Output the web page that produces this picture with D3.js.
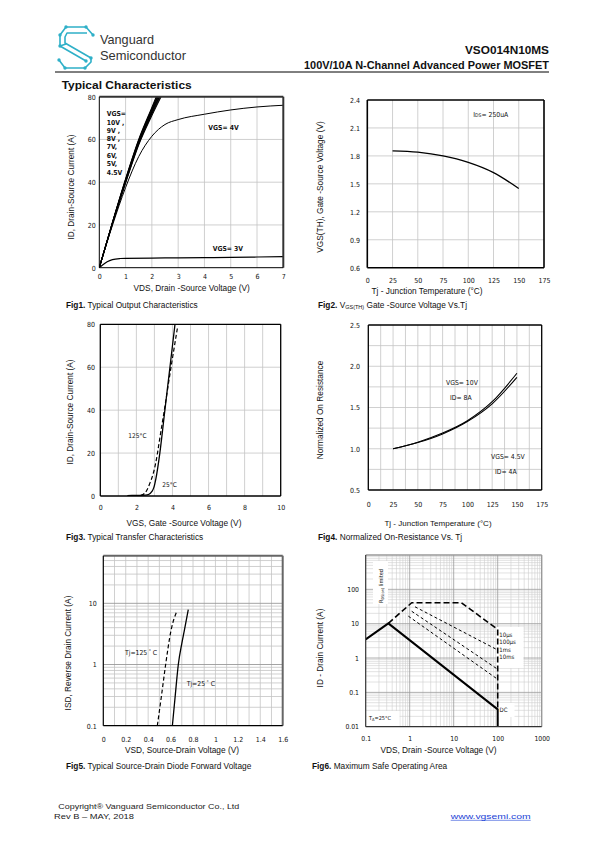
<!DOCTYPE html>
<html><head><meta charset="utf-8">
<script src="https://cdn.jsdelivr.net/npm/d3@7"></script>
<style>body{margin:0;background:#fff}svg{display:block}</style>
</head><body>
<script>
// ---------------- DATA ----------------
const fig1XTicks=[0,1,2,3,4,5,6,7];
const fig1YTicks=[0,20,40,60,80];
const fig1Vgs10=[[0,0],[0.5,21.2],[1,41.5],[1.5,60],[2,75],[2.2,81]];
const fig1Vgs9=[[0,0],[0.5,21.1],[1,41.2],[1.5,59.6],[2,74.4],[2.23,81]];
const fig1Vgs8=[[0,0],[0.5,21],[1,40.9],[1.5,59.2],[2,73.8],[2.26,81]];
const fig1Vgs7=[[0,0],[0.5,20.9],[1,40.6],[1.5,58.8],[2,73.2],[2.29,81]];
const fig1Vgs6=[[0,0],[0.5,20.8],[1,40.3],[1.5,58.4],[2,72.6],[2.32,81]];
const fig1Vgs5=[[0,0],[0.5,20.7],[1,40],[1.5,58],[2,72],[2.35,81]];
const fig1Vgs45=[[0,0],[0.5,20.5],[1,39.6],[1.5,57.5],[2,71.2],[2.39,81]];
const fig1Vgs4=[[0,0],[0.5,19.8],[1,37.5],[1.5,52],[2,61.5],[2.5,67],[3,69.3],[4,71.8],[5,73.8],[6,75.2],[7,76]];
const fig1Vgs3=[[0,0],[0.15,1.5],[0.3,2.8],[0.5,3.8],[0.8,4.3],[1,4.4],[2,4.5],[3,4.6],[4,4.7],[5,4.8],[6,5.0],[7,5.2]];
const fig1BundleLabels=["VGS=","10V ,","9V ,","8V ,","7V,","6V,","5V,","4.5V"];

const fig2XTicks=[0,25,50,75,100,125,150,175];
const fig2YTicks=[0.6,0.9,1.2,1.5,1.8,2.1,2.4];
const fig2Temp=[25,50,75,100,125,150];
const fig2Vth=[1.855,1.84,1.80,1.73,1.62,1.45];

const fig3XTicks=[0,2,4,6,8,10];
const fig3YTicks=[0,20,40,60,80];
const fig3Tj25=[[1.5,0.2],[2.0,0.3],[2.5,0.4],[2.7,0.8],[2.85,2],[2.97,4],[3.08,8],[3.3,20],[3.58,40],[3.86,60],[4.14,80]];
const fig3Tj125=[[2.25,0.3],[2.45,1.2],[2.6,3],[2.75,6],[2.9,9.5],[3.05,14.5],[3.15,19],[3.3,27],[3.55,40],[3.92,60],[4.29,79]];

const fig4XTicks=[0,25,50,75,100,125,150,175];
const fig4YTicks=[0.5,1.0,1.5,2.0,2.5];
const fig4Temp=[25,50,75,100,125,150];
const fig4Vgs10=[1.0,1.08,1.19,1.34,1.57,1.915];
const fig4Vgs45=[1.0,1.075,1.18,1.33,1.545,1.866];

const fig5XTicks=[0,0.2,0.4,0.6,0.8,1,1.2,1.4,1.6];
const fig5YTicks=[0.1,1,10];
const fig5Tj25=[[0.616,0.1],[0.642,0.316],[0.669,1],[0.70,2.2],[0.723,3.6],[0.758,7.9]];
const fig5Tj125=[[0.482,0.1],[0.52,0.32],[0.556,1],[0.604,3.6],[0.657,7.5]];

const fig6XTicks=[0.1,1,10,100,1000];
const fig6YTicks=[0.01,0.1,1,10,100];
const fig6DC=[[0.1,3.5],[0.327,10.2],[100,0.032],[100,0.01]];
const fig6Us10=[[0.327,10.2],[1.11,40.7],[15,40.7],[100,6.8],[100,0.032]];
const fig6Us100=[[1.32,31],[100,1.71]];
const fig6Ms1=[[1.11,23],[100,0.47]];
const fig6Ms10=[[0.93,16.6],[100,0.24]];
const fig6PulseLabels=["10µs","100µs","1ms","10ms"];

// ---------------- DRAWING ----------------
const NARROW="'Liberation Sans Narrow','Arial Narrow','DejaVu Sans Condensed','Liberation Sans',Arial,sans-serif";
const SANS="'Liberation Sans',Arial,Helvetica,sans-serif";
const svg=d3.select("body").append("svg").attr("width",595).attr("height",842);
const defs=svg.append("defs");
let clipN=0;

function txt(g,x,y,s,o={}){
  const t=g.append("text").attr("x",x).attr("y",y).text(s)
    .attr("font-family",o.ff||SANS).attr("font-size",o.fs||8).attr("fill",o.fill||"#111");
  if(o.fw) t.attr("font-weight",o.fw);
  if(o.anchor) t.attr("text-anchor",o.anchor);
  if(o.dy) t.attr("dy",o.dy);
  if(o.len) t.attr("textLength",o.len).attr("lengthAdjust","spacingAndGlyphs");
  if(o.rot) t.attr("transform",`rotate(-90,${x},${y})`);
  return t;
}
function seg(g,x1,y1,x2,y2,c,w,da){
  const l=g.append("line").attr("x1",x1).attr("y1",y1).attr("x2",x2).attr("y2",y2).attr("stroke",c).attr("stroke-width",w);
  if(da) l.attr("stroke-dasharray",da);
  return l;
}
function panel(o){
  const x=(o.xlog?d3.scaleLog():d3.scaleLinear()).domain(o.xd).range([o.l,o.r]);
  const y=(o.ylog?d3.scaleLog():d3.scaleLinear()).domain(o.yd).range([o.b,o.t]);
  const g=svg.append("g");
  const grid=g.append("g");
  (o.gx||[]).forEach(v=>seg(grid,x(v),o.t,x(v),o.b,o.gc||"#c4c4c4",o.gw||0.8));
  (o.gy||[]).forEach(v=>seg(grid,o.l,y(v),o.r,y(v),o.gc||"#c4c4c4",o.gw||0.8));
  (o.gxM||[]).forEach(v=>seg(grid,x(v),o.t,x(v),o.b,o.gcM||"#9a9a9a",o.gwM||0.9));
  (o.gyM||[]).forEach(v=>seg(grid,o.l,y(v),o.r,y(v),o.gcM||"#9a9a9a",o.gwM||0.9));
  const id="clip"+(++clipN);
  defs.append("clipPath").attr("id",id).append("rect").attr("x",o.l).attr("y",o.t).attr("width",o.r-o.l).attr("height",o.b-o.t);
  const plot=g.append("g").attr("clip-path",`url(#${id})`);
  return {g,x,y,plot,o};
}
function frame(p,s){
  const o=p.o,g=p.g.append("g");
  seg(g,o.l,o.t,o.r,o.t,s.tc,s.tw);
  seg(g,o.r,o.t,o.r,o.b,s.tc,s.tw);
  seg(g,o.l,o.t,o.l,o.b,s.lc,s.lw);
  seg(g,o.l,o.b,o.r,o.b,s.lc,s.lw);
}
function ticks(p,xt,yt,xf,yf,xLabY,yLabX,fs){
  const ax=p.g.append("g").attr("transform",`translate(0,${xLabY})`)
    .call(d3.axisBottom(p.x).tickValues(xt).tickFormat(xf).tickSize(0).tickPadding(0));
  ax.select(".domain").remove();
  ax.attr("font-family",NARROW).attr("font-size",fs);
  ax.selectAll("text").attr("dy","0.35em").attr("fill","#111");
  const ay=p.g.append("g").attr("transform",`translate(${yLabX},0)`)
    .call(d3.axisLeft(p.y).tickValues(yt).tickFormat(yf).tickSize(0).tickPadding(0));
  ay.select(".domain").remove();
  ay.attr("font-family",NARROW).attr("font-size",fs);
  ay.selectAll("text").attr("dy","0.33em").attr("fill","#111");
}
function curve(p,data,o={}){
  const ln=d3.line().x(d=>p.x(d[0])).y(d=>p.y(d[1])).curve(o.linear?d3.curveLinear:d3.curveMonotoneX);
  const path=p.plot.append("path").attr("d",ln(data)).attr("fill","none")
    .attr("stroke",o.c||"#000").attr("stroke-width",o.w||1.2).attr("stroke-linejoin","round");
  if(o.da) path.attr("stroke-dasharray",o.da);
  return path;
}
function caption(x,y,num,fs){
  const t=svg.append("text").attr("x",x).attr("y",y).attr("font-family",SANS).attr("font-size",fs||8.3).attr("fill","#111");
  t.append("tspan").attr("font-weight","bold").text(num);
  return t;
}

// ---------- Header ----------
const head=svg.append("g");
const logo=head.append("g").attr("stroke","#2fb0c8").attr("stroke-width",1.6).attr("fill","none").attr("stroke-linejoin","round");
logo.append("path").attr("d","M93,35 L86,27 L66,27 L60,35 L60,46 L86,61");
logo.append("path").attr("d","M87,33 L67,33 L65,37 L65,43 L91,58 L91,62 L85,68 L65,68 L59,60");
logo.append("path").attr("d","M60,46 L66,44");
const logoDots=[[86,27],[66,27],[60,35],[93,35],[60,46],[91,58],[85,68],[65,68],[59,60],[86,61]];
logo.selectAll("circle").data(logoDots).join("circle").attr("cx",d=>d[0]).attr("cy",d=>d[1]).attr("r",1.7).attr("fill","#2fb0c8").attr("stroke","none");
txt(head,100,43.5,"Vanguard",{fs:13,fill:"#333",len:54});
txt(head,100,59.5,"Semiconductor",{fs:13,fill:"#333",len:86});
txt(head,549,53.5,"VSO014N10MS",{fs:11.5,fw:"bold",anchor:"end",len:84});
txt(head,549,69.3,"100V/10A  N-Channel  Advanced  Power  MOSFET",{fs:10,fw:"bold",anchor:"end",len:245});
seg(head,55,72,549,72,"#000",1);
txt(head,61.7,89,"Typical Characteristics",{fs:11.2,fw:"bold",len:130});

// ---------- Fig1 ----------
const p1=panel({xd:[0,7],yd:[0,80],l:99.3,r:283.3,t:96.7,b:267.7,
  gx:[1,2,3,4,5,6],gy:[20,40,60]});
[fig1Vgs10,fig1Vgs9,fig1Vgs8,fig1Vgs7,fig1Vgs6,fig1Vgs5,fig1Vgs45].forEach(d=>curve(p1,d,{w:1.1}));
curve(p1,fig1Vgs4,{w:1});
curve(p1,fig1Vgs3,{w:1.2});
frame(p1,{tc:"#333",tw:2,lc:"#000",lw:1});
ticks(p1,fig1XTicks,fig1YTicks,d3.format("d"),d3.format("d"),276.7,95.7,7);
const fig1LabY=[113.3,122.7,130.7,139,147,155.7,164,172.3];
fig1BundleLabels.forEach((s,i)=>txt(p1.g,106.7,fig1LabY[i],s,{ff:NARROW,fs:6.8,fw:"bold",dy:"0.35em"}));
txt(p1.g,208.3,127.3,"VGS= 4V",{ff:NARROW,fs:6.8,fw:"bold",dy:"0.35em"});
txt(p1.g,212.7,249,"VGS= 3V",{ff:NARROW,fs:6.8,fw:"bold",dy:"0.35em"});
txt(svg,191.7,287.8,"VDS, Drain -Source Voltage (V)",{fs:8.3,anchor:"middle",dy:"0.35em"});
txt(svg,71,187,"ID, Drain-Source Current (A)",{fs:8.3,anchor:"middle",dy:"0.35em",rot:true});
caption(66,307.5,"Fig1.").append("tspan").text(" Typical Output Characteristics");

// ---------- Fig2 ----------
const p2=panel({xd:[0,175],yd:[0.6,2.4],l:367.3,r:544,t:100,b:267.7,
  gx:[25,50,75,100,125,150],gy:[0.9,1.2,1.5,1.8,2.1]});
curve(p2,fig2Temp.map((t,i)=>[t,fig2Vth[i]]),{w:1.3});
frame(p2,{tc:"#000",tw:1.6,lc:"#000",lw:1.6});
ticks(p2,fig2XTicks,fig2YTicks,d3.format("d"),d3.format(".1f"),280.3,360,7);
const t2=txt(p2.g,473.3,114.3,"I",{ff:NARROW,fs:6.8,dy:"0.35em"});
t2.append("tspan").attr("font-size",5).text("DS");
t2.append("tspan").text("= 250uA");
txt(svg,427,290.8,"Tj - Junction Temperature (°C)",{fs:8.3,anchor:"middle",dy:"0.35em"});
txt(svg,320.5,187,"VGS(TH), Gate -Source Voltage (V)",{fs:8.3,anchor:"middle",dy:"0.35em",rot:true});
const c2=caption(318,307.5,"Fig2.");
c2.append("tspan").text(" V");
c2.append("tspan").attr("font-size",5.5).attr("dy",1.5).text("GS(TH)");
c2.append("tspan").attr("dy",-1.5).text(" Gate -Source Voltage Vs.Tj");

// ---------- Fig3 ----------
const p3=panel({xd:[0,10],yd:[0,80],l:100.3,r:280.7,t:324.3,b:496,
  gx:[1,2,3,4,5,6,7,8,9],gy:[20,40,60]});
curve(p3,fig3Tj25,{w:1.3});
curve(p3,fig3Tj125,{w:1.2,da:"4,2.5"});
frame(p3,{tc:"#000",tw:1.3,lc:"#000",lw:1.3});
ticks(p3,fig3XTicks,fig3YTicks,d3.format("d"),d3.format("d"),507.7,95,7);
txt(p3.g,128.3,435.7,"125°C",{ff:NARROW,fs:6.5,dy:"0.35em"});
txt(p3.g,162.3,484.3,"25°C",{ff:NARROW,fs:6.5,dy:"0.35em"});
txt(svg,184,522.7,"VGS, Gate -Source Voltage (V)",{fs:8.3,anchor:"middle",dy:"0.35em"});
txt(svg,70,412,"ID, Drain-Source Current (A)",{fs:8.3,anchor:"middle",dy:"0.35em",rot:true});
caption(66,540,"Fig3.").append("tspan").text(" Typical Transfer Characteristics");

// ---------- Fig4 ----------
const p4=panel({xd:[0,175],yd:[0.5,2.5],l:368.3,r:541.7,t:325,b:490,
  gx:d3.range(12.5,175,12.5),gy:[0.75,1,1.25,1.5,1.75,2,2.25]});
curve(p4,fig4Temp.map((t,i)=>[t,fig4Vgs10[i]]),{w:1.1});
curve(p4,fig4Temp.map((t,i)=>[t,fig4Vgs45[i]]),{w:1.1});
frame(p4,{tc:"#000",tw:1.3,lc:"#000",lw:1.3});
ticks(p4,fig4XTicks,fig4YTicks,d3.format("d"),d3.format(".1f"),504.3,360,7);
txt(p4.g,446,382.7,"VGS= 10V",{ff:NARROW,fs:6.8,dy:"0.35em"});
txt(p4.g,450,397.3,"ID= 8A",{ff:NARROW,fs:6.8,dy:"0.35em"});
txt(p4.g,491,456.7,"VGS= 4.5V",{ff:NARROW,fs:6.8,dy:"0.35em"});
txt(p4.g,495,471.7,"ID= 4A",{ff:NARROW,fs:6.8,dy:"0.35em"});
txt(svg,438,523,"Tj - Junction Temperature (°C)",{fs:8,anchor:"middle",dy:"0.35em"});
txt(svg,320.5,410,"Normalized On Resistance",{fs:8.3,anchor:"middle",dy:"0.35em",rot:true});
caption(318,540,"Fig4.").append("tspan").text(" Normalized On-Resistance Vs. Tj");

// ---------- Fig5 ----------
const minors5=[0.2,0.3,0.4,0.5,0.6,0.7,0.8,0.9,2,3,4,5,6,7,8,9,20,30,40,50];
const p5=panel({xd:[0,1.6],yd:[0.1,60],ylog:true,l:103.3,r:282.7,t:555.7,b:725.7,
  gx:d3.range(1,16).map(i=>i/10),gy:minors5,gyM:[1,10]});
curve(p5,fig5Tj25,{w:1.3});
curve(p5,fig5Tj125,{w:1.2,da:"4,2.5"});
frame(p5,{tc:"#666",tw:2,lc:"#000",lw:1.2});
ticks(p5,fig5XTicks,fig5YTicks,d3.format("~g"),d3.format("~g"),739.3,96.7,7);
const t5a=txt(p5.g,125,652.3,"Tj=125",{ff:NARROW,fs:6.8,dy:"0.35em"});
t5a.append("tspan").attr("dy",-2).attr("font-size",5).text(" °");
t5a.append("tspan").attr("dy",2).text(" C");
const t5b=txt(p5.g,186.7,683.3,"Tj=25",{ff:NARROW,fs:6.8,dy:"0.35em"});
t5b.append("tspan").attr("dy",-2).attr("font-size",5).text(" °");
t5b.append("tspan").attr("dy",2).text(" C");
txt(svg,182,750,"VSD, Source-Drain Voltage (V)",{fs:8.3,anchor:"middle",dy:"0.35em"});
txt(svg,68.3,653,"ISD, Reverse Drain Current (A)",{fs:8.3,anchor:"middle",dy:"0.35em",rot:true});
caption(66,769,"Fig5.").append("tspan").text(" Typical Source-Drain Diode Forward Voltage");

// ---------- Fig6 ----------
const dec=(a,b)=>{const r=[];for(let e=a;e<=b;e++)for(let k=2;k<=9;k++)r.push(k*Math.pow(10,e));return r;};
const p6=panel({xd:[0.1,1000],yd:[0.01,1000],xlog:true,ylog:true,l:365.7,r:541.7,t:555,b:726.7,
  gx:dec(-1,2),gy:dec(-2,2),gxM:[1,10,100],gyM:[0.1,1,10,100],gc:"#cfcfcf",gw:0.6,gcM:"#9a9a9a",gwM:0.8});
const bx=p6.plot.append("g").attr("fill","#fff");
bx.append("rect").attr("x",373).attr("y",561).attr("width",15).attr("height",43);
bx.append("rect").attr("x",496.5).attr("y",627).attr("width",27).attr("height",41);
bx.append("rect").attr("x",496.5).attr("y",703).attr("width",18).attr("height",14);
bx.append("rect").attr("x",366.5).attr("y",711).attr("width",33).attr("height",15);
curve(p6,fig6Us100,{linear:true,w:1,da:"3,2.5"});
curve(p6,fig6Ms1,{linear:true,w:1,da:"3,2.5"});
curve(p6,fig6Ms10,{linear:true,w:1,da:"3,2.5"});
curve(p6,fig6Us10,{linear:true,w:1.6,da:"6,3"});
curve(p6,fig6DC,{linear:true,w:2});
frame(p6,{tc:"#999",tw:1.4,lc:"#333",lw:1.2});
ticks(p6,fig6XTicks,fig6YTicks,d3.format("~g"),d3.format("~g"),738.3,359,6.8);
const pY=[635,642.3,649.6,657];
fig6PulseLabels.forEach((s,i)=>txt(p6.g,499.3,pY[i],s,{ff:NARROW,fs:6,dy:"0.35em"}));
txt(p6.g,499.5,710,"DC",{ff:NARROW,fs:6,dy:"0.35em"});
const ta=txt(p6.g,369,718.5,"T",{ff:NARROW,fs:5.5,dy:"0.35em"});
ta.append("tspan").attr("font-size",4).attr("dy",1).text("A");
ta.append("tspan").attr("dy",-1).text("=25°C");
const rl=p6.g.append("text").attr("transform","translate(383,603) rotate(-90)").attr("font-family",NARROW).attr("font-size",5.5).attr("fill","#111");
rl.append("tspan").text("R");
rl.append("tspan").attr("font-size",3.8).attr("dy",1).text("DS(on)");
rl.append("tspan").attr("dy",-1).text(" limited");
txt(svg,438.5,750,"VDS, Drain -Source Voltage (V)",{fs:8.3,anchor:"middle",dy:"0.35em"});
txt(svg,320.5,648,"ID - Drain Current (A)",{fs:8.3,anchor:"middle",dy:"0.35em",rot:true});
caption(312,769,"Fig6.").append("tspan").text(" Maximum Safe Operating Area");

// ---------- Footer ----------
const ft=svg.append("g");
txt(ft,58.3,808.5,"Copyright® Vanguard Semiconductor Co., Ltd",{fs:6.3,fill:"#222",len:181});
txt(ft,54,818.5,"Rev B – MAY, 2018",{fs:6.3,fill:"#222",len:80});
txt(ft,450.7,818.5,"www.vgsemi.com",{fs:7,fill:"#1b3fd6",len:80});
seg(ft,450.7,820.3,530.7,820.3,"#1b3fd6",0.6);
</script>
</body></html>
